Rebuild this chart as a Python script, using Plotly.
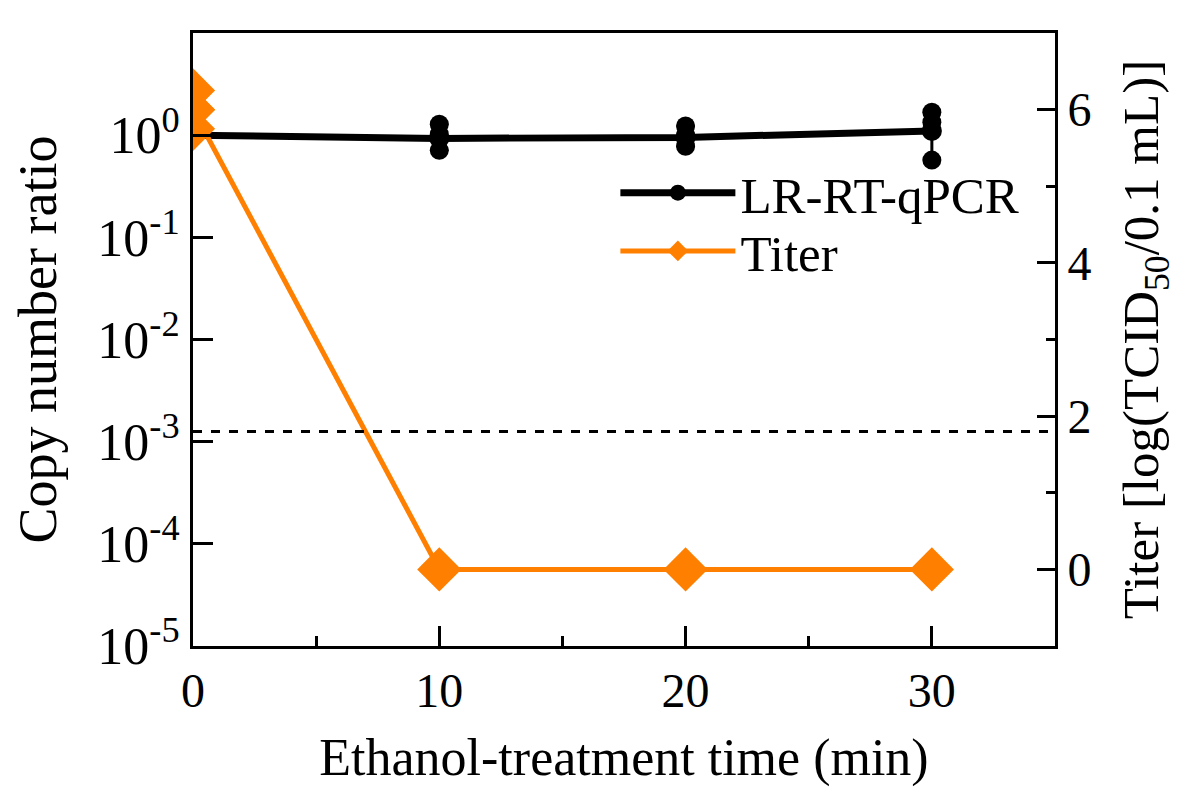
import plotly.graph_objects as go

# ---- data ----
time_min = [0, 10, 20, 30]
qpcr_mean = [1.0, 0.93, 0.95, 1.1]
qpcr_reps_t = [0, 0, 0, 10, 10, 10, 20, 20, 20, 30, 30, 30]
qpcr_reps = [1.02, 1.0, 0.98, 1.28, 1.02, 0.71, 1.23, 1.0, 0.78, 1.68, 1.34, 0.57]
titer_mean = [6.0, 0.0, 0.0, 0.0]
titer_reps_t = [0, 0, 0]
titer_reps = [6.25, 6.0, 5.75]
detection_limit = 1.8  # log(TCID50/0.1 mL)

x_ticks = [0, 10, 20, 30]
y_ticks = [1e-5, 1e-4, 1e-3, 1e-2, 1e-1, 1e0, 1e1]
y_ticktext = ["10<sup>-5</sup>", "10<sup>-4</sup>", "10<sup>-3</sup>", "10<sup>-2</sup>",
              "10<sup>-1</sup>", "10<sup>0</sup>", "10<sup>1</sup>"]
y2_ticks = [0, 2, 4, 6]

BLACK = "#000000"
ORANGE = "#FF8000"
FONT = "Liberation Serif"

# error bars from replicate spread
err_plus, err_minus = [], []
for i, t in enumerate(time_min):
    vals = [v for tt, v in zip(qpcr_reps_t, qpcr_reps) if tt == t]
    err_plus.append(max(vals) - qpcr_mean[i])
    err_minus.append(qpcr_mean[i] - min(vals))

fig = go.Figure()

fig.add_trace(go.Scatter(
    x=qpcr_reps_t, y=qpcr_reps, mode="markers",
    marker=dict(symbol="circle", size=19, color=BLACK),
    showlegend=False, hoverinfo="skip"))

fig.add_trace(go.Scatter(
    x=time_min, y=qpcr_mean, mode="lines+markers", name="LR-RT-qPCR",
    line=dict(color=BLACK, width=7),
    marker=dict(symbol="circle", size=20, color=BLACK),
    error_y=dict(type="data", symmetric=False, array=err_plus, arrayminus=err_minus,
                 color=BLACK, thickness=3, width=9),
    legend="legend"))

fig.add_trace(go.Scatter(
    x=titer_reps_t, y=titer_reps, mode="markers", yaxis="y2",
    marker=dict(symbol="diamond", size=34, color=ORANGE),
    showlegend=False, hoverinfo="skip"))

fig.add_trace(go.Scatter(
    x=time_min, y=titer_mean, mode="lines+markers", name="Titer", yaxis="y2",
    line=dict(color=ORANGE, width=5),
    marker=dict(symbol="diamond", size=34, color=ORANGE),
    legend="legend2"))

fig.add_shape(type="line", xref="x", yref="y2", x0=0, x1=35,
              y0=detection_limit, y1=detection_limit,
              line=dict(color=BLACK, width=3, dash="dash"))

legend_common = dict(xanchor="left", yanchor="middle",
                     font=dict(family=FONT, size=51, color=BLACK),
                     bgcolor="rgba(0,0,0,0)", itemwidth=115, tracegroupgap=0)

fig.update_layout(
    width=1180, height=790,
    margin=dict(l=185, r=133, t=25, b=152),
    paper_bgcolor="white", plot_bgcolor="white",
    font=dict(family=FONT, color=BLACK),
    showlegend=True,
    legend=dict(x=0.49, y=0.739, **legend_common),
    legend2=dict(x=0.49, y=0.644, **legend_common),
    xaxis=dict(
        range=[0, 35], tickvals=x_ticks, ticks="inside", ticklen=20, tickwidth=3,
        tickcolor=BLACK, showline=True, linecolor=BLACK, linewidth=3, mirror=True,
        showgrid=False, zeroline=False, automargin=False,
        tickfont=dict(family=FONT, size=48),
        minor=dict(dtick=5, ticks="inside", ticklen=10, tickwidth=3, tickcolor=BLACK, showgrid=False),
        title=dict(text="Ethanol-treatment time (min)", font=dict(family=FONT, size=52), standoff=24)),
    yaxis=dict(
        type="log", range=[-5, 1], tickvals=y_ticks, ticktext=y_ticktext,
        ticks="inside", ticklen=20, tickwidth=3, tickcolor=BLACK,
        showline=True, linecolor=BLACK, linewidth=3, mirror=True,
        showgrid=False, zeroline=False, automargin=False,
        tickfont=dict(family=FONT, size=52),
        title=dict(text="Copy number ratio", font=dict(family=FONT, size=54), standoff=30)),
    yaxis2=dict(
        overlaying="y", side="right", range=[-1, 7], tickvals=y2_ticks,
        ticks="inside", ticklen=18, tickwidth=3, tickcolor=BLACK,
        showline=True, linecolor=BLACK, linewidth=3,
        showgrid=False, zeroline=False, automargin=False,
        tickfont=dict(family=FONT, size=48),
        minor=dict(dtick=1, ticks="inside", ticklen=9, tickwidth=3, tickcolor=BLACK, showgrid=False),
        title=dict(text="Titer [log(TCID<sub>50</sub>/0.1 mL)]", font=dict(family=FONT, size=51), standoff=32)),
)

fig.write_html("out.html")
